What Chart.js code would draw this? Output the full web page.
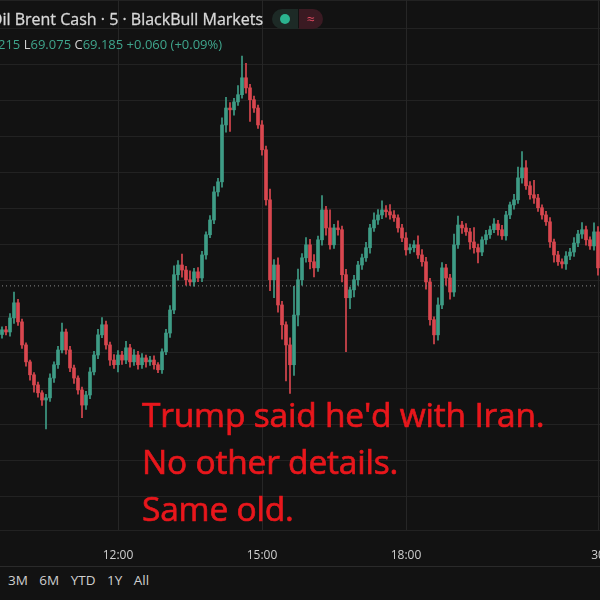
<!DOCTYPE html>
<html><head><meta charset="utf-8">
<script src="https://cdn.jsdelivr.net/npm/chart.js@4"></script>
<style>
html,body{margin:0;padding:0;background:#121212;width:600px;height:600px;overflow:hidden;font-family:"Open Sans",sans-serif}
#wrap{position:absolute;left:0;top:0;width:600px;height:562px}
.hdr{position:absolute;color:#d8d8d8;white-space:nowrap}
#t1{left:-10px;top:8px;font-size:16px;-webkit-text-stroke:0.3px #d8d8d8}
#t2{left:-2px;top:35px;font-size:13px;color:#3fa58c}
#t2 b{color:#d0d0d0;font-weight:normal}
#dot{position:absolute;left:272px;top:9px;width:26px;height:20px;border-radius:10px 0 0 10px;background:#1d2a26}
#dot i{position:absolute;left:8px;top:5px;width:10px;height:10px;border-radius:5px;background:#2bb38f}
#wave{position:absolute;left:299px;top:9px;width:24px;height:20px;border-radius:0 10px 10px 0;background:#3a1a22;color:#e04a60;font-size:14px;text-align:center;line-height:20px}
#note{position:absolute;left:142px;top:391px;color:#e8171c;font-size:33.5px;line-height:47px;font-family:"Open Sans",sans-serif;letter-spacing:-0.2px;-webkit-text-stroke:0.7px #e8171c}
#sep{position:absolute;left:0;top:566px;width:600px;height:1px;background:#2a2a2a}
#bot{position:absolute;left:8px;top:571px;color:#cfcfcf;font-size:13.5px;word-spacing:8px}
</style></head><body>
<div id="wrap"><canvas id="c" width="600" height="562"></canvas></div>
<div class="hdr" id="t1">Oil Brent Cash · 5 · BlackBull Markets</div>
<div id="dot"><i></i></div><div id="wave">≈</div>
<div class="hdr" id="t2">215 <b>L</b>69.075 <b>C</b>69.185 +0.060 (+0.09%)</div>
<div id="note">Trump said he'd with Iran.<br>No other details.<br>Same old.</div>
<div id="sep"></div>
<div id="bot">3M 6M YTD 1Y All</div>
<script>
const firstOpen = 69.050;
const closes = [69.063,69.057,69.096,69.138,69.085,69.021,68.974,68.938,68.910,68.888,
68.868,68.874,68.929,68.966,69.007,69.057,69.007,68.957,68.929,68.896,
68.854,68.882,68.946,68.993,69.049,69.077,69.021,68.979,68.966,68.993,
68.979,69.013,68.974,68.993,68.966,68.985,68.974,68.979,68.966,68.952,
69.002,69.054,69.118,69.216,69.243,69.229,69.202,69.196,69.224,69.207,
69.271,69.327,69.368,69.446,69.474,69.632,69.679,69.674,69.696,69.716,
69.763,69.735,69.702,69.679,69.632,69.563,69.424,69.202,69.243,69.132,
69.077,69.021,68.966,69.104,69.202,69.263,69.299,69.252,69.235,69.313,
69.396,69.346,69.299,69.346,69.341,69.216,69.152,69.174,69.202,69.243,
69.263,69.291,69.346,69.368,69.382,69.396,69.391,69.382,69.374,69.346,
69.318,69.285,69.291,69.299,69.271,69.252,69.196,69.091,69.049,69.132,
69.235,69.207,69.168,69.299,69.354,69.346,69.335,69.307,69.291,69.279,
69.313,69.327,69.341,69.357,69.341,69.324,69.382,69.410,69.424,69.485,
69.513,69.463,69.438,69.429,69.402,69.382,69.363,69.307,69.271,69.252,
69.246,69.268,69.279,69.304,69.329,69.341,69.313,69.296,69.335,69.235];
// wick lengths beyond the body, in thousandths of a dollar
const wickUp = [8,10,12,30,10,8,6,5,6,8, 6,10,12,8,10,25,8,10,8,6,
8,10,12,10,15,20,10,8,15,12, 10,18,10,15,10,12,8,10,12,6,
8,10,12,25,12,30,10,25,10,12, 10,8,12,15,10,20,30,15,10,25,
60,40,10,10,8,12,10,30,15,20, 10,8,20,80,30,12,20,15,20,10,
40,10,50,10,20,10,15,8,12,10, 10,15,10,20,15,25,12,20,12,8,
10,15,10,12,25,15,12,10,8,20, 15,10,10,30,25,10,12,10,40,10,
8,12,10,15,10,12,10,8,15,30, 45,20,12,40,10,8,10,12,8,10,
8,12,10,15,10,20,10,8,25,15];
const wickDn = [10,8,12,15,10,10,12,15,20,12, 15,80,10,12,10,8,12,10,15,12,
35,12,10,8,10,8,12,15,10,20, 12,10,15,10,12,10,15,10,12,8,
10,8,12,10,15,20,15,10,12,10, 10,12,8,10,12,15,20,60,15,10,
10,15,60,12,10,15,15,30,50,20, 40,100,80,30,30,15,12,20,25,10,
15,20,12,10,15,20,150,30,20,15, 12,10,15,10,12,10,15,12,10,12,
10,15,10,12,10,12,20,15,25,15, 10,20,20,12,10,15,10,20,15,30,
10,12,10,8,15,10,12,10,12,10, 15,10,12,15,10,12,10,15,20,10,
12,15,10,12,10,12,15,10,12,20];
const tickLabels = {"12:00":29,"15:00":65,"18:00":101,"30":149};
const lastPrice = 69.185;

const labels=[], bodies=[], wicks=[], up=[];
let prev = firstOpen;
for (let i=0;i<closes.length;i++){
  const o=prev, c=closes[i];
  const hi=Math.max(o,c)+wickUp[i]/1000, lo=Math.min(o,c)-wickDn[i]/1000;
  let lab="";
  for (const k in tickLabels) if (tickLabels[k]===i) lab=k;
  labels.push(lab||("c"+i));
  bodies.push(Math.abs(c-o)<0.003?[o-0.0015,c+0.0015]:[o,c]);
  wicks.push([lo,hi]);
  up.push(c>=o);
  prev=c;
}
const G='#3e9c86', R='#d9474f';
const col = up.map(u=>u?G:R);
const vgrid = {id:'vgrid',beforeDatasetsDraw(ch){
  const ctx=ch.ctx, a=ch.chartArea, x=ch.scales.x;
  ctx.save(); ctx.strokeStyle='#262626'; ctx.lineWidth=1;
  for (const k in tickLabels){const px=Math.round(x.getPixelForValue(tickLabels[k]))+0.5;
    ctx.beginPath();ctx.moveTo(px,a.top);ctx.lineTo(px,a.bottom);ctx.stroke();}
  ctx.restore();}};
new Chart(document.getElementById('c'),{
  type:'bar',
  data:{labels,datasets:[
    {data:wicks,backgroundColor:col,barThickness:1,grouped:false,order:2},
    {data:bodies,backgroundColor:col,barThickness:3,grouped:false,order:1},
    {type:'line',data:labels.map(()=>lastPrice),borderColor:'#8a8a8a',borderWidth:1,borderDash:[1,3],pointRadius:0,order:0}
  ]},
  plugins:[vgrid],
  options:{animation:false,responsive:false,maintainAspectRatio:false,devicePixelRatio:1,
    layout:{padding:0},
    plugins:{legend:{display:false},tooltip:{enabled:false}},
    scales:{
      x:{offset:true,border:{display:false},grid:{display:false},
         ticks:{autoSkip:false,maxRotation:0,color:'#cfcfcf',font:{size:12,family:'"Open Sans"'},padding:10,
           callback:function(v){const l=this.getLabelForValue(v);return l.startsWith('c')?'':l;}},
         afterFit:s=>{s.height=32;s.paddingLeft=0;s.paddingRight=0;}},
      y:{min:68.507,max:69.979,grid:{color:'#222',drawTicks:false},border:{display:false},
         ticks:{display:false,stepSize:0.1},afterFit:s=>{s.width=0;s.paddingTop=0;s.paddingBottom=0;}}
    }}
});
</script>
</body></html>
